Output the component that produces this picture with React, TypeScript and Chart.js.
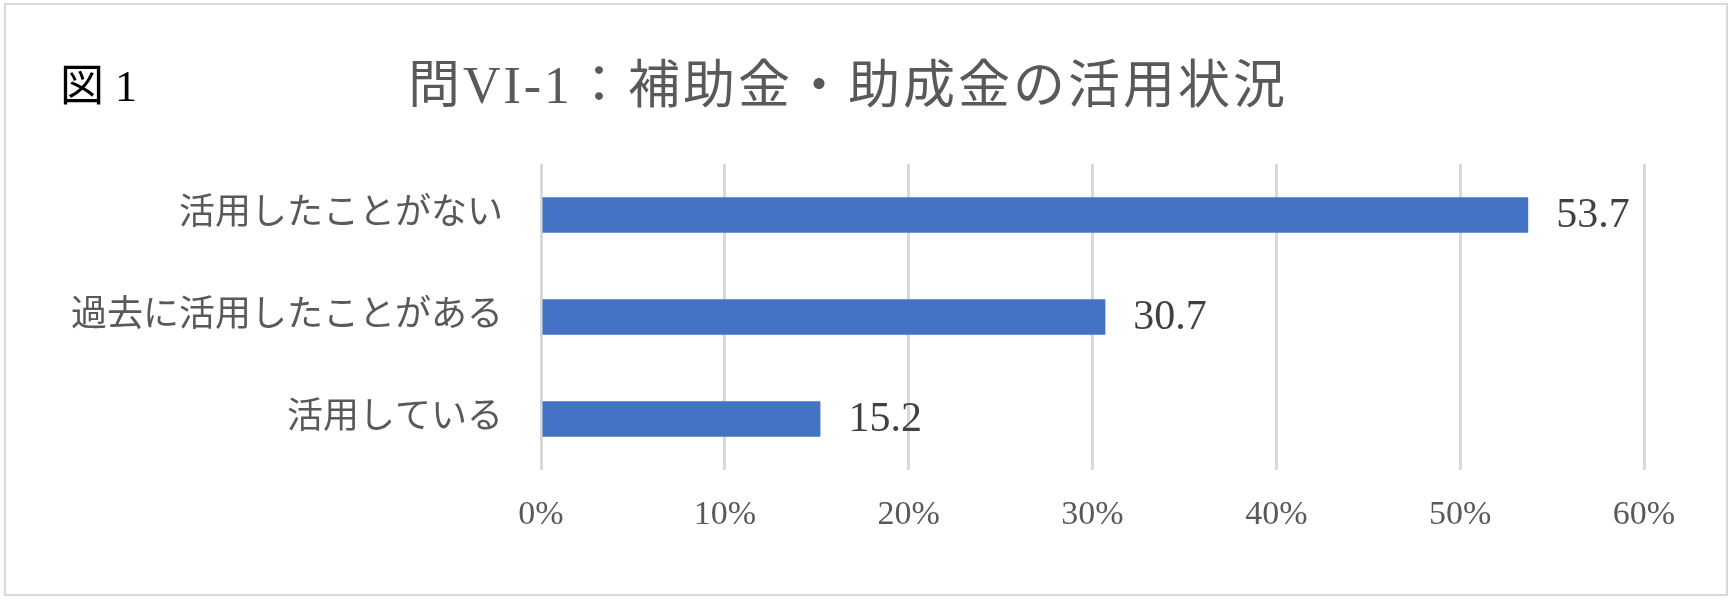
import React, { useEffect, useRef } from "react";
import { Chart, registerables } from "chart.js";

Chart.register(...registerables);

const figureLabel = "図 1";
const chartTitle = "問VI-1：補助金・助成金の活用状況";
const categories = ["活用したことがない", "過去に活用したことがある", "活用している"];
const values = [53.7, 30.7, 15.2];
const xMin = 0;
const xMax = 60;
const xStep = 10;

const FONT = "'Liberation Serif', 'Noto Sans CJK JP', serif";
const W = 1732;
const H = 605;

const headerPlugin = {
  id: "header",
  afterDraw(chart: any) {
    const ctx = chart.ctx;
    ctx.save();
    ctx.textBaseline = "middle";
    ctx.fillStyle = "#000000";
    ctx.font = `44px ${FONT}`;
    ctx.textAlign = "left";
    ctx.fillText(figureLabel, 60, 89);
    ctx.fillStyle = "#595959";
    ctx.font = `52px ${FONT}`;
    try {
      (ctx as any).letterSpacing = "3px";
    } catch (e) {}
    ctx.textAlign = "center";
    ctx.fillText(chartTitle, 848, 89);
    try {
      (ctx as any).letterSpacing = "0px";
    } catch (e) {}
    ctx.restore();
  },
};

const valueLabelPlugin = {
  id: "valueLabels",
  afterDatasetsDraw(chart: any) {
    const ctx = chart.ctx;
    const meta = chart.getDatasetMeta(0);
    ctx.save();
    ctx.font = `42px ${FONT}`;
    ctx.fillStyle = "#404040";
    ctx.textAlign = "left";
    ctx.textBaseline = "middle";
    meta.data.forEach((bar: any, i: number) => {
      const v = chart.data.datasets[0].data[i] as number;
      ctx.fillText(v.toFixed(1), bar.x + 28, bar.y + 1);
    });
    ctx.restore();
  },
};

export default function App() {
  const canvasRef = useRef<HTMLCanvasElement | null>(null);

  useEffect(() => {
    if (!canvasRef.current) return;
    const chart = new Chart(canvasRef.current, {
      type: "bar",
      data: {
        labels: categories,
        datasets: [
          {
            data: values,
            backgroundColor: "#4472C4",
            borderWidth: 0,
            categoryPercentage: 1,
            barPercentage: 0.35,
          },
        ],
      },
      options: {
        indexAxis: "y",
        responsive: false,
        animation: false,
        devicePixelRatio: 1,
        layout: { padding: { top: 164, right: 88, bottom: 0, left: 0 } },
        plugins: {
          legend: { display: false },
          tooltip: { enabled: false },
          title: { display: false },
        },
        scales: {
          x: {
            min: xMin,
            max: xMax,
            ticks: {
              stepSize: xStep,
              callback: (v: any) => `${v}%`,
              color: "#595959",
              font: { family: FONT, size: 34 },
              padding: 25,
              maxRotation: 0,
            },
            grid: { color: "#D9D9D9", lineWidth: 3, drawTicks: false },
            border: { display: false },
            afterFit: (s: any) => {
              s.height = H - 470;
            },
          },
          y: {
            ticks: {
              color: "#595959",
              font: { family: FONT, size: 36 },
              padding: 38,
            },
            grid: { display: false, drawTicks: false },
            border: { display: false },
            afterFit: (s: any) => {
              s.width = 541;
            },
          },
        },
      },
      plugins: [headerPlugin, valueLabelPlugin],
    });
    return () => chart.destroy();
  }, []);

  return (
    <div
      style={{
        position: "absolute",
        left: 0,
        top: 0,
        width: W,
        height: H,
        background: "#ffffff",
      }}
    >
      <canvas ref={canvasRef} width={W} height={H} style={{ display: "block" }} />
      <div
        style={{
          position: "absolute",
          left: 4,
          top: 3,
          width: 1724,
          height: 593,
          border: "2px solid #D9D9D9",
          boxSizing: "border-box",
          pointerEvents: "none",
        }}
      />
    </div>
  );
}
